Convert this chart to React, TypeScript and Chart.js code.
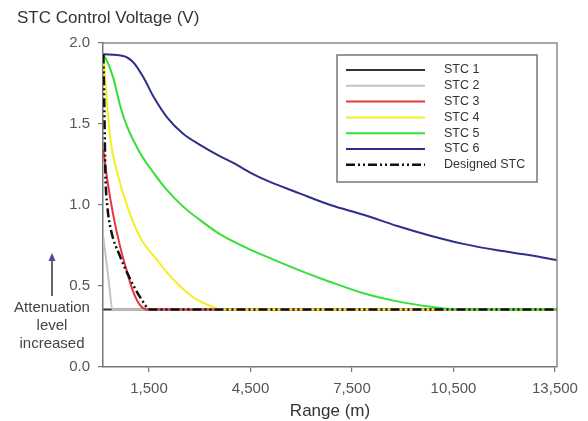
import React, { useEffect, useRef } from "react";
import { Chart, registerables } from "chart.js";
Chart.register(...registerables);

const seriesNames = ["STC 1", "STC 2", "STC 3", "STC 4", "STC 5", "STC 6", "Designed STC"];

const stc1Range = [150, 13560];
const stc1Volt = [0.355, 0.355];
const stc2Range = [150, 300, 420, 13560];
const stc2Volt = [0.8, 0.55, 0.355, 0.355];
const stc3Range = [150, 270, 450, 650, 860, 1040, 1240, 1450, 13560];
const stc3Volt = [1.34, 1.15, 0.93, 0.74, 0.58, 0.46, 0.38, 0.355, 0.355];
const stc4Range = [150, 270, 360, 560, 860, 1240, 1740, 2220, 2810, 3400, 3650, 13560];
const stc4Volt = [1.93, 1.6, 1.4, 1.2, 0.99, 0.8, 0.66, 0.54, 0.43, 0.37, 0.355, 0.355];
const stc5Range = [150, 300, 450, 650, 860, 1240, 1630, 2040, 2510, 3020, 3520, 3990, 4490, 4990, 5970, 6860, 7840, 8840, 9820, 10400, 10900, 13560];
const stc5Volt = [1.93, 1.87, 1.78, 1.61, 1.48, 1.32, 1.2, 1.09, 0.99, 0.905, 0.83, 0.775, 0.725, 0.68, 0.595, 0.525, 0.455, 0.405, 0.372, 0.358, 0.355, 0.355];
const stc6Range = [150, 740, 1040, 1330, 1630, 2040, 2510, 3020, 3520, 3990, 4490, 4990, 5970, 6860, 7840, 8840, 9820, 10790, 11800, 12770, 13560];
const stc6Volt = [1.93, 1.92, 1.88, 1.79, 1.67, 1.54, 1.44, 1.37, 1.31, 1.26, 1.2, 1.15, 1.07, 1.0, 0.94, 0.87, 0.81, 0.76, 0.72, 0.69, 0.66];
const designedRange = [150, 180, 210, 270, 360, 650, 950, 1240, 1540, 13560];
const designedVolt = [1.93, 1.6, 1.2, 0.99, 0.86, 0.68, 0.54, 0.43, 0.355, 0.355];

const xTicks = [1500, 4500, 7500, 10500, 13500];
const yTicks = [0, 0.5, 1.0, 1.5, 2.0];

const FONT = '"Liberation Sans", Arial, sans-serif';

const toPoints = (xs: number[], ys: number[]) => xs.map((x, i) => ({ x, y: ys[i] }));

const decorPlugin = {
  id: "decor",
  afterDraw(chart: any) {
    const { ctx, chartArea: a } = chart;
    ctx.save();
    // top/right frame
    ctx.strokeStyle = "#8a8a8a";
    ctx.lineWidth = 1.5;
    ctx.beginPath();
    ctx.moveTo(a.left, a.top);
    ctx.lineTo(a.right, a.top);
    ctx.lineTo(a.right, a.bottom);
    ctx.stroke();

    // titles
    ctx.fillStyle = "#333";
    ctx.textBaseline = "middle";
    ctx.textAlign = "left";
    ctx.font = `17px ${FONT}`;
    ctx.fillText("STC Control Voltage (V)", 17, 18);
    ctx.textAlign = "center";
    ctx.fillText("Range (m)", (a.left + a.right) / 2, 411);

    // annotation
    ctx.font = `15px ${FONT}`;
    ctx.fillStyle = "#444";
    ctx.fillText("Attenuation", 52, 308);
    ctx.fillText("level", 52, 326);
    ctx.fillText("increased", 52, 344);
    ctx.strokeStyle = "#333";
    ctx.lineWidth = 1.5;
    ctx.beginPath();
    ctx.moveTo(52, 296);
    ctx.lineTo(52, 259);
    ctx.stroke();
    ctx.fillStyle = "#4a4aa0";
    ctx.beginPath();
    ctx.moveTo(52, 253);
    ctx.lineTo(48.5, 261);
    ctx.lineTo(55.5, 261);
    ctx.closePath();
    ctx.fill();

    // legend
    const bx = 337, by = 55, bw = 200, bh = 127;
    ctx.fillStyle = "#fff";
    ctx.fillRect(bx, by, bw, bh);
    ctx.strokeStyle = "#777";
    ctx.lineWidth = 1.5;
    ctx.strokeRect(bx, by, bw, bh);
    ctx.font = `12.5px ${FONT}`;
    ctx.textAlign = "left";
    const ds = chart.data.datasets;
    ds.forEach((d: any, i: number) => {
      const y = 70 + i * 15.8;
      ctx.save();
      ctx.strokeStyle = d.borderColor;
      ctx.lineWidth = d.borderWidth;
      ctx.setLineDash(d.borderDash || []);
      ctx.beginPath();
      ctx.moveTo(346, y);
      ctx.lineTo(425, y);
      ctx.stroke();
      ctx.restore();
      ctx.fillStyle = "#333";
      ctx.fillText(d.label, 444, y);
    });
    ctx.restore();
  },
};

export default function App() {
  const ref = useRef<HTMLCanvasElement>(null);
  useEffect(() => {
    document.body.style.margin = "0";
    const mk = (i: number, xs: number[], ys: number[], color: string, order: number, extra: any = {}) => ({
      label: seriesNames[i],
      data: toPoints(xs, ys),
      borderColor: color,
      backgroundColor: color,
      borderWidth: 2,
      pointRadius: 0,
      cubicInterpolationMode: "monotone",
      order,
      ...extra,
    });
    const chart = new Chart(ref.current!, {
      type: "line",
      data: {
        datasets: [
          mk(0, stc1Range, stc1Volt, "#333333", 6),
          mk(1, stc2Range, stc2Volt, "#c4c4c4", 5),
          mk(2, stc3Range, stc3Volt, "#e8343a", 4),
          mk(3, stc4Range, stc4Volt, "#f2f01e", 3),
          mk(4, stc5Range, stc5Volt, "#35e035", 2),
          mk(5, stc6Range, stc6Volt, "#2e2e8c", 1),
          mk(6, designedRange, designedVolt, "#111111", 0, { borderWidth: 2.5, borderDash: [9, 3, 2, 3, 2, 3] }),
        ] as any,
      },
      options: {
        animation: false,
        responsive: true,
        maintainAspectRatio: false,
        layout: { padding: { top: 43, right: 31, left: 0, bottom: 0 } },
        plugins: { legend: { display: false }, tooltip: { enabled: false } },
        scales: {
          x: {
            type: "linear",
            min: 140,
            max: 13560,
            afterFit: (s: any) => { s.height = 54; },
            afterBuildTicks: (s: any) => { s.ticks = xTicks.map((v) => ({ value: v })); },
            ticks: {
              color: "#555",
              font: { size: 15, family: FONT },
              padding: 8,
              maxRotation: 0,
              callback: (v: any) => Number(v).toLocaleString("en-US"),
            },
            grid: { drawOnChartArea: false, drawTicks: true, tickLength: 5, color: "#777", lineWidth: 1.2 },
            border: { display: true, color: "#777", width: 1.5 },
          },
          y: {
            min: 0,
            max: 2,
            afterFit: (s: any) => { s.width = 103; },
            afterBuildTicks: (s: any) => { s.ticks = yTicks.map((v) => ({ value: v })); },
            ticks: {
              color: "#555",
              font: { size: 15, family: FONT },
              padding: 8,
              callback: (v: any) => Number(v).toFixed(1),
            },
            grid: { drawOnChartArea: false, drawTicks: true, tickLength: 5, color: "#777", lineWidth: 1.2 },
            border: { display: true, color: "#777", width: 1.5 },
          },
        },
      },
      plugins: [decorPlugin],
    });
    return () => chart.destroy();
  }, []);
  return (
    <div style={{ position: "relative", width: 588, height: 421 }}>
      <canvas ref={ref} />
    </div>
  );
}
